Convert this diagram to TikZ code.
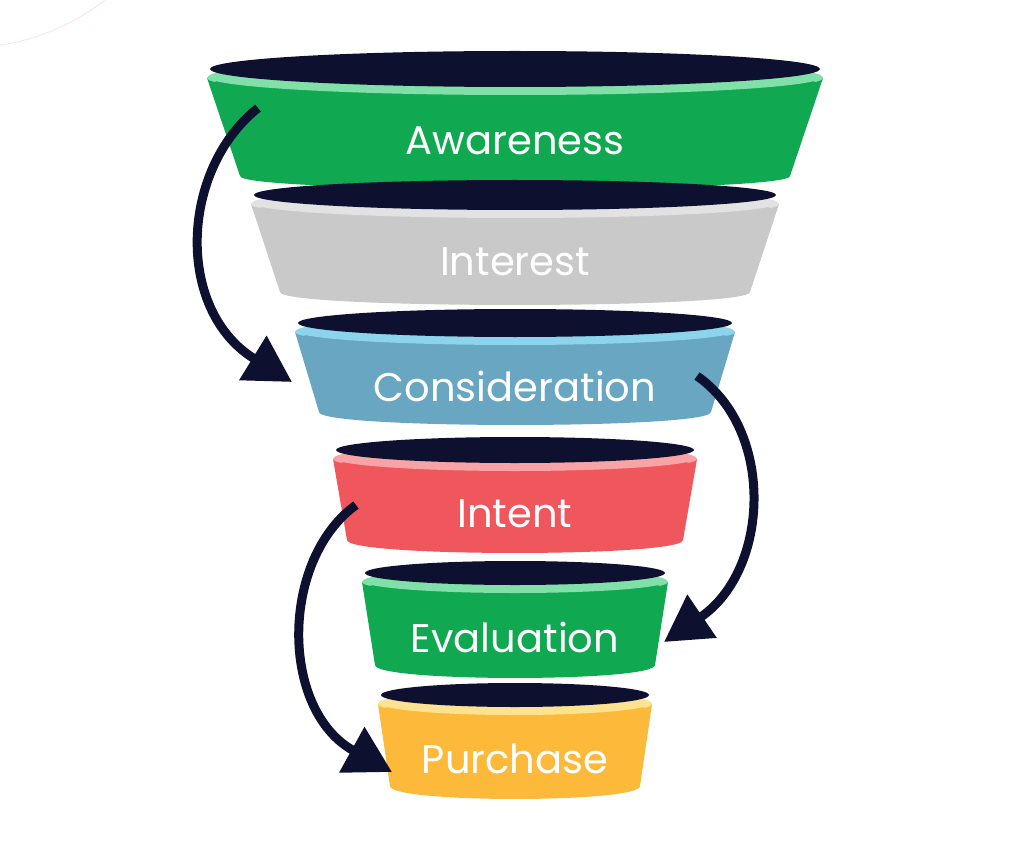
\documentclass[tikz,border=0pt]{standalone}
\usepackage{fontspec}
\setmainfont{Poppins}
\usetikzlibrary{arrows.meta}
\definecolor{dk}{HTML}{0E1030}
\definecolor{gr}{HTML}{10A850}\definecolor{grb}{HTML}{80E0A8}
\definecolor{gy}{HTML}{C8C9C8}\definecolor{gyb}{HTML}{E2E2E2}
\definecolor{bl}{HTML}{68A6C2}\definecolor{blb}{HTML}{8CD4EC}
\definecolor{rd}{HTML}{F0575D}\definecolor{rdb}{HTML}{F8A4A6}
\definecolor{yl}{HTML}{FDBA3A}\definecolor{ylb}{HTML}{FDE290}
\tikzset{flow/.style={dk,line width=9pt,-{Triangle[length=46pt,width=50pt]}},
lbl/.style={text=white,font=\fontsize{40}{40}\selectfont}}
\newcommand\layer[9]{%
 \fill[#6] ({515-#2},#1) -- ({515-#4},#3) .. controls ({515-#4},{#3+1.33*13}) and ({515+#4},{#3+1.33*13}) .. ({515+#4},#3) -- ({515+#2},#1) -- cycle;
 \fill[#7] (515,#1) ellipse [x radius=#2pt, y radius=#5pt];
 \fill[#6] (515,{#1+7}) ellipse [x radius={(#2-3)*1pt}, y radius=#5pt];
 \fill[#7] (515,{#1-1}) ellipse [x radius={(#2-1)*1pt}, y radius=#5pt];
 \fill[dk] (515,{#1-9}) ellipse [x radius={(#2-3)*1pt}, y radius=#5pt];
 \node[lbl] (#8) at (515,{(#1+#3)/2+14}) {#9};}
\begin{document}
\begin{tikzpicture}[x=1pt,y=-1pt]
\useasboundingbox (0,0) rectangle (1024,842);
\fill[white] (0,0) rectangle (1024,842);
\draw[red!12,line width=0.8pt] (0,45) .. controls (40,40) and (80,20) .. (105,0);
\layer{78}{308}{176}{275}{18}{gr}{grb}{aw}{Awareness}
\layer{204}{264}{292}{235}{15}{gy}{gyb}{in}{Interest}
\layer{332}{220}{412}{196}{14}{bl}{blb}{co}{Consideration}
\layer{459}{182}{540}{168}{13}{rd}{rdb}{it}{Intent}
\layer{582}{153}{665}{140}{12}{gr}{grb}{ev}{Evaluation}
\layer{704}{137}{786}{125}{12}{yl}{ylb}{pu}{Purchase}
\coordinate (a1) at (258,108); \coordinate (b1) at (292,382);
\coordinate (a2) at (697,376); \coordinate (b2) at (664,642);
\coordinate (a3) at (356,505); \coordinate (b3) at (392,772);
\draw[flow] (a1) .. controls (180,170) and (175,310) .. (b1);
\draw[flow] (a2) .. controls (775,430) and (770,570) .. (b2);
\draw[flow] (a3) .. controls (280,560) and (280,710) .. (b3);
\end{tikzpicture}
\end{document}
